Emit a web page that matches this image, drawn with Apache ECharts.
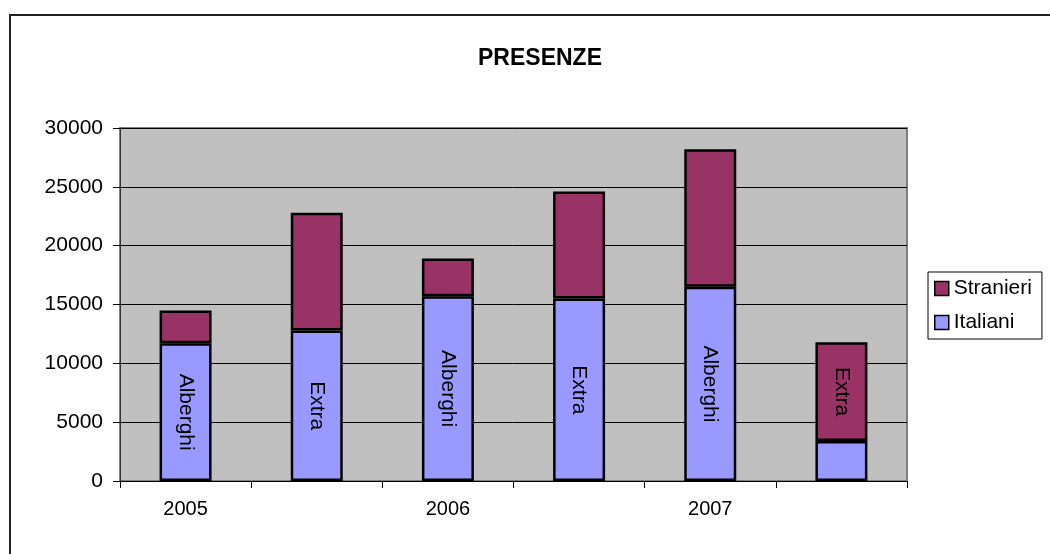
<!DOCTYPE html>
<html>
<head>
<meta charset="utf-8">
<script src="https://cdn.jsdelivr.net/npm/echarts@6/dist/echarts.min.js"></script>
<style>
  html, body { margin: 0; padding: 0; background: #fff; }
  #main { width: 1050px; height: 554px; }
</style>
</head>
<body>
<div id="main"></div>
<script>
// dati
var categories = ['2005', '', '2006', '', '2007', ''];
var italiani = [11700, 12800, 15700, 15500, 16500, 3400];
var stranieri = [2800, 10000, 3200, 9100, 11700, 8400];
var barTypes = ['Alberghi', 'Extra', 'Alberghi', 'Extra', 'Alberghi', 'Extra'];
// su quale serie sta la scritta di ogni colonna
var labelOn = ['Italiani', 'Italiani', 'Italiani', 'Italiani', 'Italiani', 'Stranieri'];

var font = 'Liberation Sans, Arial, sans-serif';
var chart = echarts.init(document.getElementById('main'));

function buildData(values, name) {
  return values.map(function (v, i) {
    return {
      value: v,
      label: { show: labelOn[i] === name, formatter: barTypes[i] }
    };
  });
}

var barLabel = {
  position: 'inside',
  rotate: -90,
  color: '#000',
  fontSize: 21,
  fontFamily: font
};

var option = {
  animation: false,
  title: {
    text: 'PRESENZE',
    left: 473,
    top: 42,
    textStyle: { fontSize: 23, fontWeight: 'bold', color: '#000', fontFamily: font }
  },
  legend: {
    orient: 'vertical',
    left: 928,
    top: 272,
    padding: [6, 10, 6, 6],
    itemWidth: 14,
    itemHeight: 14,
    itemGap: 13,
    icon: 'rect',
    borderColor: '#000',
    borderWidth: 1,
    backgroundColor: '#fff',
    data: ['Stranieri', 'Italiani'],
    textStyle: { fontSize: 21, color: '#000', fontFamily: font },
    itemStyle: { borderColor: '#000', borderWidth: 1.5 }
  },
  grid: {
    left: 120,
    right: 143,
    top: 128,
    bottom: 73,
    show: true,
    backgroundColor: '#C0C0C0',
    borderColor: '#808080',
    borderWidth: 2
  },
  xAxis: {
    type: 'category',
    data: categories,
    axisLine: { lineStyle: { color: '#000', width: 1 } },
    axisTick: { show: true, interval: 0, length: 7, lineStyle: { color: '#000' } },
    axisLabel: { interval: 0, margin: 18, fontSize: 20, color: '#000', fontFamily: font }
  },
  yAxis: {
    type: 'value',
    min: 0,
    max: 30000,
    interval: 5000,
    axisLine: { show: true, lineStyle: { color: '#333', width: 1 } },
    axisTick: { show: true, length: 7, lineStyle: { color: '#000' } },
    splitLine: { lineStyle: { color: '#000', width: 1 } },
    axisLabel: {
      margin: 17, fontSize: 21, color: '#000', fontFamily: font,
      formatter: function (v) { return String(v); }
    }
  },
  series: [
    {
      name: 'Italiani',
      type: 'bar',
      stack: 'tot',
      barWidth: 52,
      data: buildData(italiani, 'Italiani'),
      itemStyle: { color: '#9999FF', borderColor: '#000', borderWidth: 2.5 },
      label: barLabel
    },
    {
      name: 'Stranieri',
      type: 'bar',
      stack: 'tot',
      barWidth: 52,
      data: buildData(stranieri, 'Stranieri'),
      itemStyle: { color: '#993366', borderColor: '#000', borderWidth: 2.5 },
      label: barLabel
    }
  ],
  graphic: [
    { type: 'line', shape: { x1: 10, y1: 15, x2: 1050, y2: 15 }, style: { stroke: '#222', lineWidth: 2 } },
    { type: 'line', shape: { x1: 10, y1: 14, x2: 10, y2: 554 }, style: { stroke: '#222', lineWidth: 2 } }
  ]
};

chart.setOption(option);
</script>
</body>
</html>
